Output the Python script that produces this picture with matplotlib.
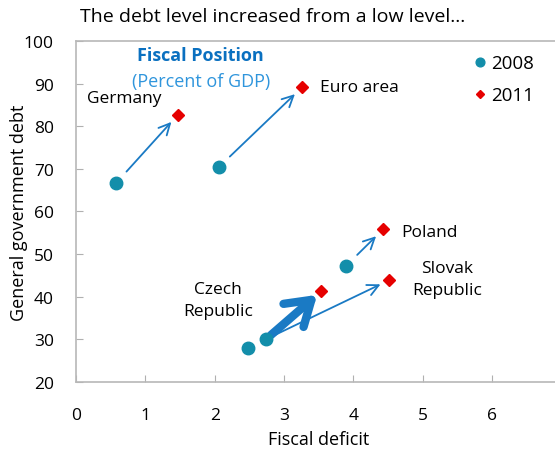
import matplotlib.pyplot as plt

plt.rcParams['font.family'] = ['Open Sans', 'DejaVu Sans']

# data: fiscal deficit (x) and general government debt (y), % of GDP
countries = ['Germany', 'Euro area', 'Poland', 'Czech Republic', 'Slovak Republic']
deficit_2008 = [0.58, 2.06, 3.9, 2.74, 2.48]
debt_2008 = [66.7, 70.4, 47.3, 30.0, 28.0]
deficit_2011 = [1.47, 3.26, 4.43, 3.54, 4.52]
debt_2011 = [82.7, 89.1, 55.8, 41.3, 43.9]

teal = '#138eaa'
red = '#e60000'
blue = '#1a7ac4'

fig = plt.figure(figsize=(5.55, 4.56), dpi=100)
ax = fig.add_axes([0.137, 0.160, 0.874, 0.748])

# arrows from 2008 to 2011
for i, c in enumerate(countries):
    if c == 'Czech Republic':
        props = dict(arrowstyle='->,head_length=1.7,head_width=1.1', color=blue, lw=6,
                     shrinkA=5, shrinkB=4)
    else:
        props = dict(arrowstyle='->,head_length=0.8,head_width=0.4', color=blue, lw=1.3,
                     shrinkA=11, shrinkB=7)
    ax.annotate('', xy=(deficit_2011[i], debt_2011[i]),
                xytext=(deficit_2008[i], debt_2008[i]), arrowprops=props)

ax.plot(deficit_2008, debt_2008, 'o', color=teal, markersize=9, label='2008', zorder=3)
ax.plot(deficit_2011, debt_2011, 'D', color=red, markersize=6, label='2011', zorder=3)

ax.set_xlim(0, 7)
ax.set_ylim(20, 100)
ax.set_xticks(range(0, 8))
ax.set_yticks(range(20, 101, 10))
ax.tick_params(direction='in', length=5, color='#b0b0b0', labelsize=12.5)
ax.tick_params(axis='x', pad=18)
ax.tick_params(axis='y', pad=16)
for s in ax.spines.values():
    s.set_color('#b8b8b8')
    s.set_linewidth(1.2)

ax.set_xlabel('Fiscal deficit', fontsize=13, labelpad=5)
ax.set_ylabel('General government debt', fontsize=13)
ax.yaxis.set_label_coords(-0.10, 0.5)

# country labels
ax.text(0.69, 86.6, 'Germany', fontsize=12.5, ha='center', va='center')
ax.text(3.52, 89.1, 'Euro area', fontsize=12.5, ha='left', va='center')
ax.text(4.7, 55.3, 'Poland', fontsize=12.5, ha='left', va='center')
ax.text(5.35, 44.2, 'Slovak\nRepublic', fontsize=12.5, ha='center', va='center', linespacing=1.5)
ax.text(2.05, 39.3, 'Czech\nRepublic', fontsize=12.5, ha='center', va='center', linespacing=1.5)

ax.text(1.8, 96.8, 'Fiscal Position', fontsize=13, fontweight='bold', color='#0a70c0',
        ha='center', va='center')
ax.text(1.8, 90.6, '(Percent of GDP)', fontsize=13, color='#2f95dc', ha='center', va='center')

ax.legend(loc='upper right', bbox_to_anchor=(0.978, 1.01), frameon=False, fontsize=13.5,
          handletextpad=0.05, handlelength=1.0, labelspacing=0.75, markerscale=0.7)

fig.text(0.145, 0.962, 'The debt level increased from a low level...', fontsize=14, va='center')

fig.savefig('out.png', dpi=100)
